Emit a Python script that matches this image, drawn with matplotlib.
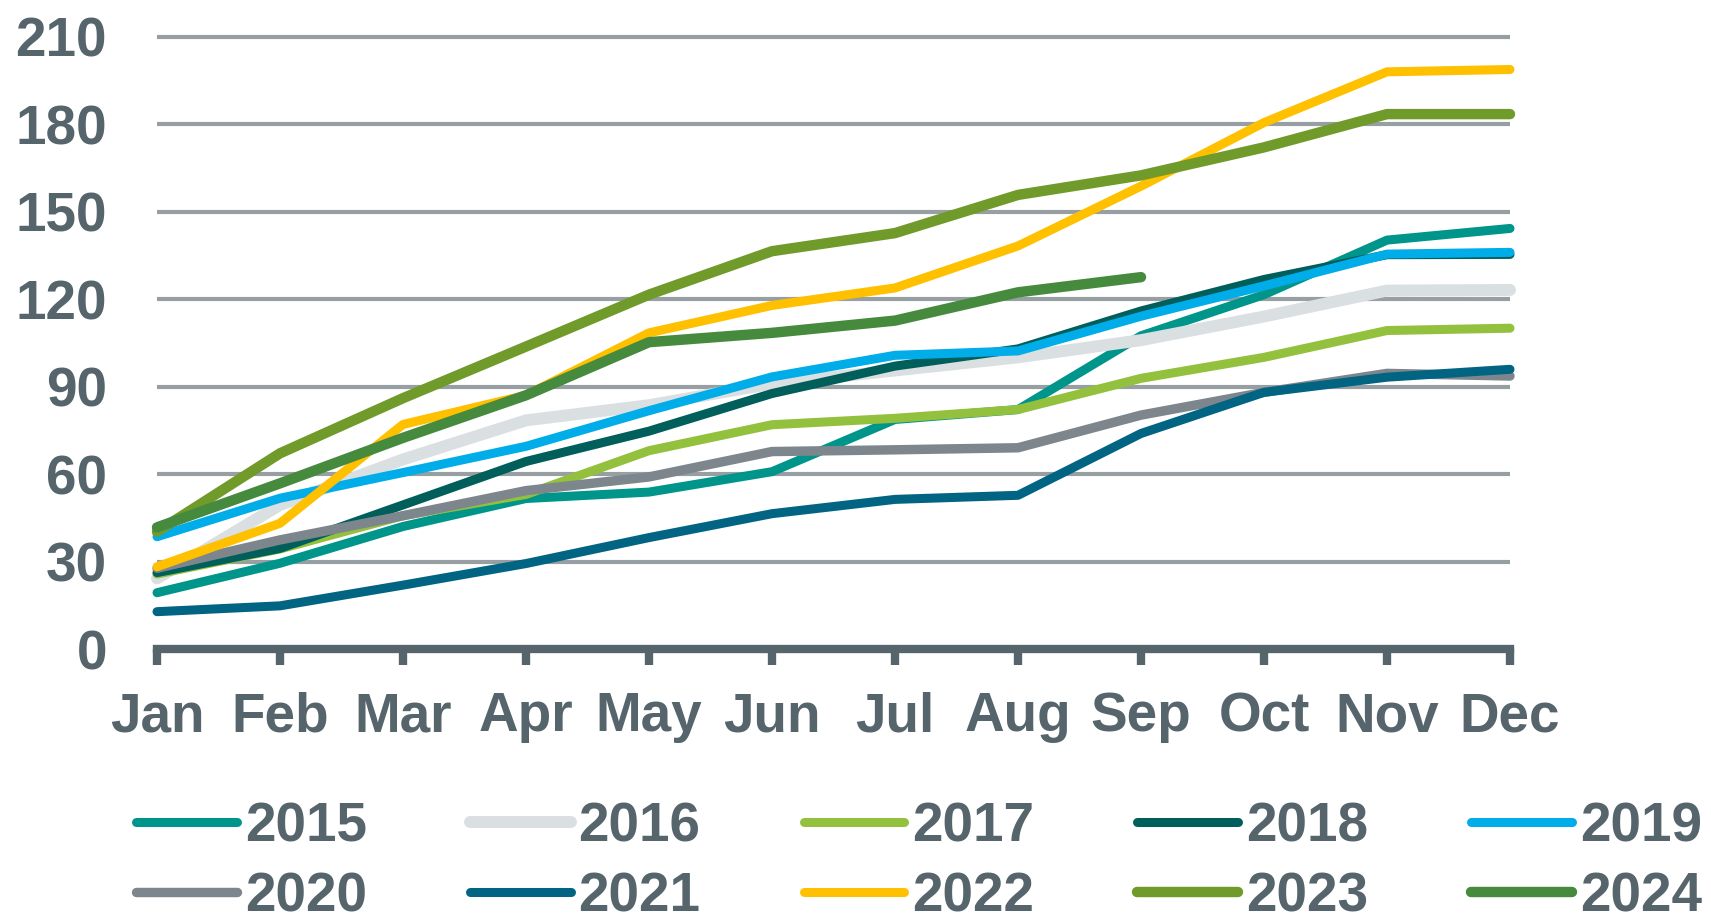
import matplotlib
matplotlib.use("Agg")
import matplotlib.pyplot as plt

plt.rcParams["font.family"] = ["Liberation Sans", "DejaVu Sans"]
plt.rcParams["font.weight"] = "bold"

months = ["Jan", "Feb", "Mar", "Apr", "May", "Jun",
          "Jul", "Aug", "Sep", "Oct", "Nov", "Dec"]
yticks = [0, 30, 60, 90, 120, 150, 180, 210]

years = ["2015", "2016", "2017", "2018", "2019",
         "2020", "2021", "2022", "2023", "2024"]
v2015 = [19.3, 29.4, 42.0, 51.6, 53.8, 60.8, 78.7, 82.1, 107.4, 121.5, 140.2, 144.2]
v2016 = [24.2, 49.4, 65.0, 78.4, 83.6, 91.0, 95.5, 100.0, 105.9, 114.0, 122.9, 123.1]
v2017 = [25.7, 34.3, 45.7, 53.0, 68.0, 76.9, 79.1, 82.1, 92.8, 100.0, 109.2, 110.0]
v2018 = [26.2, 34.5, 49.4, 64.3, 74.7, 87.6, 97.0, 102.9, 115.9, 126.7, 135.2, 135.3]
v2019 = [38.5, 51.7, 60.5, 69.5, 81.7, 93.3, 100.7, 102.2, 114.1, 124.5, 135.4, 136.0]
v2020 = [27.7, 37.4, 45.7, 54.3, 59.0, 67.7, 68.3, 69.0, 80.2, 88.0, 94.5, 93.6]
v2021 = [12.8, 14.8, 21.9, 29.3, 38.2, 46.4, 51.3, 52.7, 73.9, 88.0, 93.2, 95.9]
v2022 = [28.2, 43.1, 77.0, 87.0, 108.4, 117.8, 123.8, 138.2, 158.7, 180.5, 197.9, 198.7]
v2023 = [40.2, 67.1, 86.0, 103.7, 121.5, 136.4, 142.6, 155.7, 162.4, 172.0, 183.4, 183.4]
v2024 = [41.7, 56.8, 72.4, 87.0, 105.2, 108.4, 112.6, 122.3, 127.5]
series = [v2015, v2016, v2017, v2018, v2019, v2020, v2021, v2022, v2023, v2024]

colors = ["#00958A", "#DADFE1", "#93C13E", "#005E5B", "#00ADE8",
          "#7D868C", "#006482", "#FFC000", "#709A2A", "#468A3E"]
widths = [6.5, 8.6, 6.5, 6.5, 6.5, 6.8, 6.5, 6.5, 7.5, 7.5]

text_c = "#56646C"
grid_c = "#989FA3"

fig = plt.figure(figsize=(17.11, 9.16), dpi=100)
ax = fig.add_axes([0.09176, 0.29148, 0.79077, 0.67500])

lines = []
for yr, vals, c, lw in zip(years, series, colors, widths):
    (ln,) = ax.plot(range(len(vals)), vals, color=c, lw=lw, label=yr,
                    solid_capstyle="round", solid_joinstyle="round",
                    clip_on=False)
    lines.append(ln)

ax.set_xlim(0, 11)
ax.set_ylim(0, 212)
ax.set_xticks(range(12))
ax.set_xticklabels(months)
ax.set_yticks(yticks)
ax.set_axisbelow(True)
ax.grid(axis="y", color=grid_c, lw=3.0)

for s in ["top", "right", "left"]:
    ax.spines[s].set_visible(False)
ax.spines["bottom"].set_color(text_c)
ax.spines["bottom"].set_linewidth(6)

ax.tick_params(axis="x", length=11.5, width=6, color=text_c,
               labelsize=39.5, labelcolor=text_c, pad=19)
ax.tick_params(axis="y", length=0, labelsize=39.5, labelcolor=text_c, pad=36)

# row-major legend order for 5 columns x 2 rows
order = [0, 5, 1, 6, 2, 7, 3, 8, 4, 9]
fig.legend([lines[i] for i in order], [years[i] for i in order],
           ncol=5, loc="upper left", bbox_to_anchor=(0.0795, 0.1250),
           frameon=False, borderpad=0, borderaxespad=0,
           fontsize=39.5, labelcolor=text_c,
           handlelength=1.84, handletextpad=0.14,
           columnspacing=1.88, labelspacing=0.32)

fig.savefig("out.png", dpi=100)
